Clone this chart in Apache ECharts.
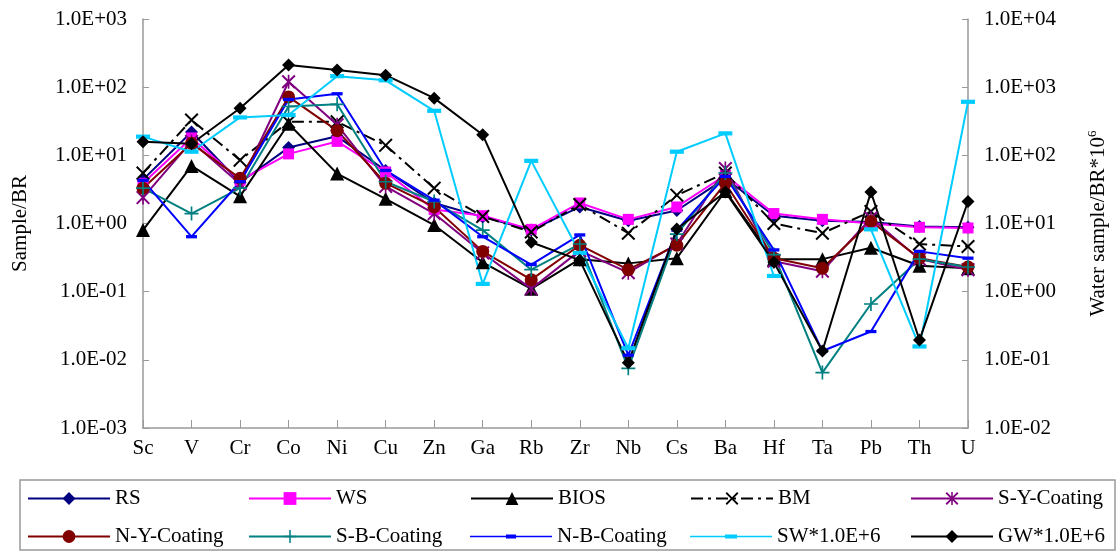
<!DOCTYPE html>
<html>
<head>
<meta charset="utf-8">
<script src="https://cdn.jsdelivr.net/npm/echarts@6/dist/echarts.min.js"></script>
<style>
  html, body { margin: 0; padding: 0; background: #fff; }
  #chart { width: 1118px; height: 552px; }
</style>
</head>
<body>
<div id="chart"></div>
<script>
// element categories
var elements = ['Sc', 'V', 'Cr', 'Co', 'Ni', 'Cu', 'Zn', 'Ga', 'Rb', 'Zr', 'Nb', 'Cs', 'Ba', 'Hf', 'Ta', 'Pb', 'Th', 'U'];

// solid samples, left axis (Sample/BR)
var rs     = [4.4, 22, 4.0, 13, 19, 6.0, 2.0, 1.25, 0.8, 1.75, 1.1, 1.55, 4.6, 1.3, 1.1, 1.05, 0.9, 0.88];
var ws     = [3.9, 18, 4.3, 10.5, 16, 5.7, 1.6, 1.3, 0.82, 2.0, 1.15, 1.75, 5.1, 1.4, 1.15, 1.0, 0.88, 0.86];
var bios   = [0.8, 7.0, 2.5, 29, 5.4, 2.3, 0.95, 0.27, 0.11, 0.3, 0.26, 0.31, 3.0, 0.3, 0.3, 0.44, 0.24, 0.22];
var bm     = [5.5, 33, 8.5, 31, 31, 14, 3.3, 1.27, 0.75, 1.9, 0.72, 2.6, 5.5, 1.0, 0.72, 1.5, 0.5, 0.46];
var syCoat = [2.4, 16, 3.8, 120, 28, 3.5, 1.4, 0.37, 0.11, 0.4, 0.19, 0.5, 6.4, 0.28, 0.2, 1.2, 0.3, 0.21];
var nyCoat = [3.3, 15, 4.6, 72, 23, 3.9, 1.75, 0.39, 0.15, 0.48, 0.21, 0.48, 3.9, 0.31, 0.22, 1.07, 0.31, 0.23];
var sbCoat = [3.3, 1.4, 3.3, 52, 56, 4.1, 2.1, 0.8, 0.21, 0.5, 0.0075, 0.7, 5.5, 0.35, 0.0065, 0.066, 0.3, 0.23];
var nbCoat = [4.3, 0.64, 4.1, 66, 80, 6.0, 2.2, 0.64, 0.25, 0.68, 0.0117, 0.8, 4.9, 0.41, 0.0135, 0.026, 0.39, 0.31];

// water samples, right axis (Water sample/BR*10^6)
var sw = [188, 113, 360, 390, 1450, 1260, 450, 1.3, 83, 3.7, 0.148, 113, 210, 1.7, null, 8.2, 0.157, 610];
var gw = [158, 148, 490, 2120, 1790, 1500, 690, 200, 5.3, 2.9, 0.091, 8.3, 29, 2.7, 0.135, 29, 0.195, 21];

var FONT = 'Liberation Serif';

// marker shapes
var xPath = 'path://M0,1L1,0L5,4L9,0L10,1L6,5L10,9L9,10L5,6L1,10L0,9L4,5Z';
var plusPath = 'path://M4.4,0H5.6V4.4H10V5.6H5.6V10H4.4V5.6H0V4.4H4.4Z';
var starPath = 'path://M0,1L1,0L5,4L9,0L10,1L6,5L10,9L9,10L5,6L1,10L0,9L4,5Z M4.4,0H5.6V10H4.4Z';
var dashPath = 'path://M0,0H10V3H0Z';
// legend icons (line + short dash) for the dash-marker series
var nbIcon = 'path://M0,1.2H36V0H46V1.2H82V2.8H46V4H36V2.8H0Z';
var swIcon = 'path://M0,1.2H35V0H47V1.2H82V2.8H47V4H35V2.8H0Z';

function sciLabel(v) {
    var e = Math.round(Math.log(v) / Math.LN10);
    var a = Math.abs(e);
    return '1.0E' + (e < 0 ? '-' : '+') + (a < 10 ? '0' : '') + a;
}

function mkSeries(name, data, color, symbol, size, axis, dash) {
    return {
        name: name,
        type: 'line',
        yAxisIndex: axis,
        data: data,
        symbol: symbol,
        symbolSize: size,
        symbolKeepAspect: true,
        connectNulls: false,
        lineStyle: { width: 2, color: color, type: dash || 'solid' },
        itemStyle: { color: color }
    };
}

var series = [
    mkSeries('RS', rs, '#000080', 'diamond', 13, 0),
    mkSeries('WS', ws, '#FF00FF', 'rect', 11, 0),
    mkSeries('BIOS', bios, '#000000', 'triangle', 14, 0),
    mkSeries('BM', bm, '#000000', xPath, 14, 0, [12, 5, 3, 5]),
    mkSeries('S-Y-Coating', syCoat, '#800080', starPath, 14, 0),
    mkSeries('N-Y-Coating', nyCoat, '#800000', 'circle', 13, 0),
    mkSeries('S-B-Coating', sbCoat, '#008080', plusPath, 14, 0),
    mkSeries('N-B-Coating', nbCoat, '#0000FF', dashPath, 11, 0),
    mkSeries('SW*1.0E+6', sw, '#00CCFF', dashPath, 14, 1),
    mkSeries('GW*1.0E+6', gw, '#000000', 'diamond', 13, 1)
];
var legendIcons = { 'N-B-Coating': nbIcon, 'SW*1.0E+6': swIcon };

// legend grid, 5 columns x 2 rows
var legendCols = [27, 248, 470, 690, 910];
var legendRows = [488, 526];
var legends = series.map(function (s, i) {
    var item = legendIcons[s.name] ? { name: s.name, icon: legendIcons[s.name] } : s.name;
    return {
        data: [item],
        left: legendCols[i % 5],
        top: legendRows[Math.floor(i / 5)],
        padding: 0,
        itemWidth: 82,
        itemHeight: 16,
        selectedMode: false,
        textStyle: { fontFamily: FONT, fontSize: 21, color: '#000' }
    };
});

var axisCommon = {
    type: 'log',
    logBase: 10,
    splitNumber: 6,
    nameLocation: 'middle',
    nameRotate: 90,
    nameTextStyle: { fontFamily: FONT, fontSize: 21, color: '#000' },
    axisLine: { show: true, lineStyle: { color: '#999', width: 1.5 } },
    axisTick: { show: true, inside: true, length: 6, lineStyle: { color: '#999' } },
    axisLabel: { fontFamily: FONT, fontSize: 21, color: '#000', margin: 16, formatter: sciLabel },
    splitLine: { show: false }
};

var myChart = echarts.init(document.getElementById('chart'));
var option = {
    animation: false,
    backgroundColor: '#fff',
    grid: { left: 143, right: 148, top: 19, bottom: 124 },
    legend: legends,
    xAxis: {
        type: 'category',
        boundaryGap: false,
        data: elements,
        axisLine: { lineStyle: { color: '#999', width: 1.5 } },
        axisTick: { inside: true, length: 8, lineStyle: { color: '#999' } },
        axisLabel: { fontFamily: FONT, fontSize: 21, color: '#000', margin: 10 }
    },
    yAxis: [
        Object.assign({}, axisCommon, {
            position: 'left',
            min: 0.001,
            max: 1000,
            name: 'Sample/BR',
            nameGap: 112
        }),
        Object.assign({}, axisCommon, {
            position: 'right',
            min: 0.01,
            max: 10000,
            name: 'Water sample/BR*10{sup|6}',
            nameGap: 118,
            nameTextStyle: {
                fontFamily: FONT, fontSize: 21, color: '#000', lineHeight: 24,
                rich: { sup: { fontFamily: FONT, fontSize: 13, verticalAlign: 'top', lineHeight: 24 } }
            }
        })
    ],
    graphic: [{
        type: 'rect',
        shape: { x: 20, y: 480, width: 1095, height: 70 },
        style: { fill: 'none', stroke: '#999', lineWidth: 1.5 },
        silent: true
    }],
    series: series
};
myChart.setOption(option);
</script>
</body>
</html>
